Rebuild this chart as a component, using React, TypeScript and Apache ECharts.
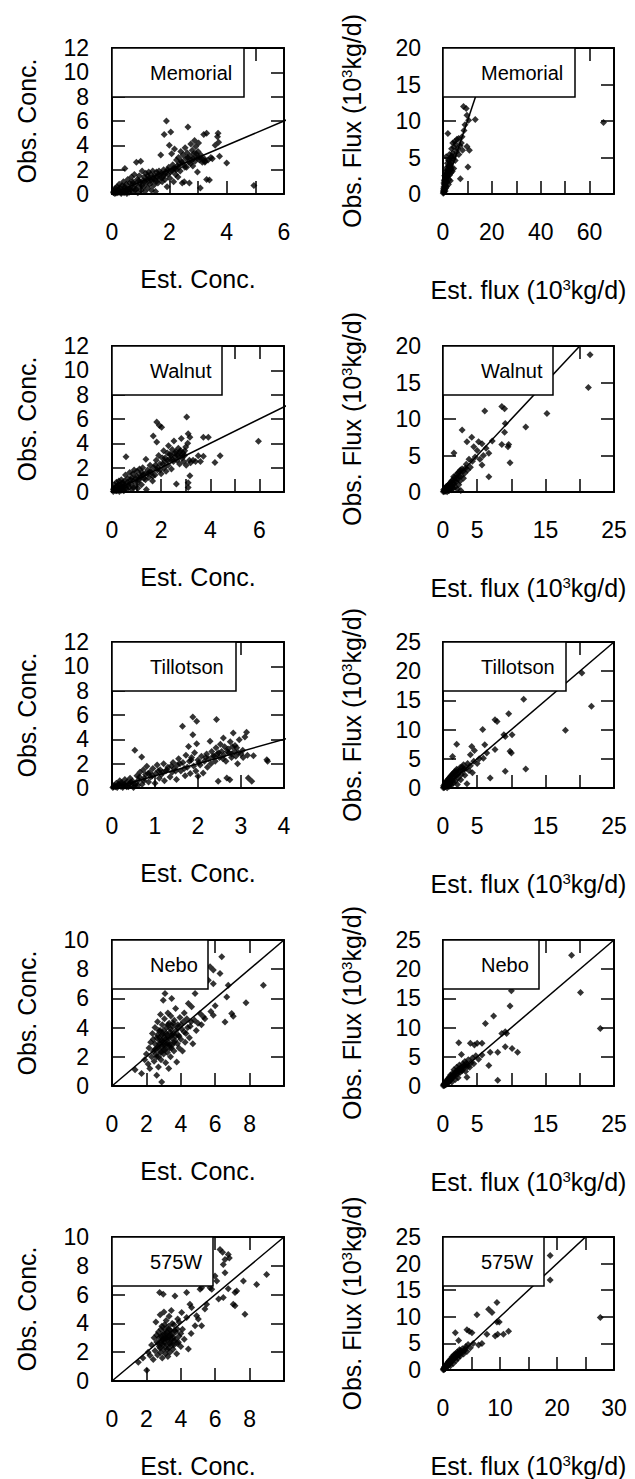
import React, { useEffect, useRef } from 'react';
import * as echarts from 'echarts';

// ---------- data ----------
const memorialConc: number[][] = [
  [0.05,0.1],[0.08,0.3],[0.1,0.05],[0.12,0.5],[0.15,0.2],[0.18,0.6],[0.2,0.1],[0.22,0.35],[0.25,0.8],[0.28,0.15],
  [0.3,0.45],[0.32,0.05],[0.35,0.7],[0.38,0.25],[0.4,1.0],[0.42,0.1],[0.45,0.5],[0.45,2.1],[0.48,0.3],[0.5,0.8],
  [0.52,0.05],[0.55,1.2],[0.58,0.4],[0.6,0.15],[0.62,0.9],[0.65,0.6],[0.68,1.4],[0.7,0.2],[0.72,1.0],[0.75,0.5],
  [0.78,1.6],[0.8,0.3],[0.82,0.8],[0.85,2.6],[0.88,1.2],[0.9,0.1],[0.92,0.6],[0.95,1.5],[0.98,0.9],[1.0,2.7],
  [1.02,0.3],[1.05,1.9],[1.08,1.1],[1.1,0.6],[1.12,1.4],[1.15,0.2],[1.18,1.7],[1.2,0.9],[1.22,1.2],[1.25,0.5],
  [1.28,1.8],[1.3,1.3],[1.32,0.8],[1.35,1.6],[1.38,0.3],[1.4,1.1],[1.42,1.9],[1.45,0.7],[1.48,1.5],[1.5,1.2],
  [1.52,0.2],[1.55,1.8],[1.58,1.4],[1.6,0.9],[1.62,1.6],[1.65,1.3],[1.7,3.2],[1.72,1.7],[1.75,1.0],[1.78,1.5],
  [1.8,2.0],[1.82,4.9],[1.85,1.2],[1.88,1.8],[1.9,6.0],[1.92,0.6],[1.95,1.6],[1.98,2.2],[2.0,4.0],[2.02,1.3],
  [2.05,5.1],[2.08,3.3],[2.1,1.9],[2.12,2.4],[2.15,1.0],[2.18,3.7],[2.2,2.1],[2.22,1.6],[2.25,2.8],[2.28,2.3],
  [2.3,1.4],[2.32,3.0],[2.35,2.5],[2.38,1.9],[2.4,3.5],[2.42,2.7],[2.45,0.9],[2.48,3.2],[2.5,2.4],[2.52,1.0],
  [2.55,3.8],[2.58,2.9],[2.6,2.2],[2.62,3.4],[2.65,5.5],[2.68,2.6],[2.7,0.9],[2.72,3.1],[2.75,4.1],[2.78,2.8],
  [2.8,3.6],[2.82,2.3],[2.85,3.3],[2.88,4.4],[2.9,2.7],[2.92,3.9],[2.95,3.0],[2.98,1.8],[3.0,3.5],[3.02,4.2],
  [3.05,2.8],[3.08,0.5],[3.1,3.2],[3.15,2.6],[3.2,4.9],[3.22,2.9],[3.25,2.7],[3.3,5.0],[3.3,1.2],[3.35,2.8],
  [3.4,1.15],[3.45,3.0],[3.5,2.9],[3.6,4.0],[3.68,4.7],[3.7,5.0],[3.72,4.25],[3.75,3.1],[4.0,2.55],[4.95,0.7],
  [0.06,0.2],[0.14,0.08],[0.24,0.4],[0.34,0.15],[0.44,0.6],[0.54,0.3],[0.64,0.35],[0.74,0.9],[0.84,0.4],[0.94,1.1],
  [1.04,0.7],[1.14,1.0],[1.24,1.5],[1.34,1.1],[1.44,1.3],[1.54,1.0],[1.64,1.9],[1.74,1.3],[1.84,1.6],[1.94,2.0],
  [2.04,1.8],[2.14,2.1],[2.24,2.0],[2.34,2.2],[2.44,2.6],[2.54,2.2],[2.64,3.0],[2.74,2.5],[2.84,2.9],[2.94,3.3],
  [3.04,3.0],[3.14,2.9],[3.24,2.6]
];

const memorialFlux: number[][] = [
  [0.1,0.1],[0.2,0.5],[0.3,0.2],[0.4,1.0],[0.5,0.3],[0.5,1.8],[0.6,0.6],[0.7,2.5],[0.8,1.2],[0.9,0.4],
  [1.0,3.0],[1.0,1.5],[1.1,0.8],[1.2,2.2],[1.3,5.1],[1.4,1.0],[1.5,3.6],[1.6,2.8],[1.7,1.6],[1.8,4.2],
  [2.0,8.3],[2.0,2.4],[2.1,3.2],[2.2,1.3],[2.3,4.6],[2.4,2.0],[2.5,3.8],[2.6,5.4],[2.7,2.6],[2.8,3.3],
  [3.0,4.0],[3.0,1.8],[3.2,5.0],[3.3,2.9],[3.4,3.6],[3.5,6.2],[3.6,4.4],[3.8,3.1],[4.0,5.6],[4.0,7.0],
  [4.2,4.8],[4.4,3.5],[4.5,6.4],[4.7,5.2],[4.8,7.2],[5.0,4.6],[5.2,6.8],[5.5,5.8],[5.7,7.5],[6.0,6.2],
  [6.4,7.6],[6.5,5.4],[7.0,6.6],[7.1,2.1],[7.5,7.0],[7.8,7.85],[8.0,6.0],[8.4,12.0],[8.6,8.7],[9.0,9.5],
  [9.5,11.7],[9.8,6.5],[9.8,10.8],[10.2,3.7],[10.5,10.1],[10.8,6.0],[13.2,10.2],[65.7,9.8],
  [0.15,0.3],[0.25,0.8],[0.35,1.5],[0.45,0.6],[0.6,1.3],[0.75,2.0],[0.9,1.1],[1.1,2.6],[1.25,1.8],[1.45,2.4],
  [1.65,3.3],[1.9,3.0],[2.2,3.8],[2.5,4.6],[2.8,4.2],[3.1,3.4],[3.6,5.2]
];

const walnutConc: number[][] = [
  [0.05,0.05],[0.08,0.3],[0.1,0.6],[0.12,0.15],[0.15,0.4],[0.18,0.8],[0.2,0.1],[0.22,0.5],[0.25,0.25],[0.28,0.9],
  [0.3,0.05],[0.32,0.6],[0.35,0.3],[0.38,1.0],[0.4,0.15],[0.42,0.7],[0.45,0.4],[0.48,0.1],[0.5,0.9],[0.52,0.5],
  [0.55,1.4],[0.57,2.9],[0.6,0.2],[0.62,0.8],[0.65,1.1],[0.7,0.4],[0.72,1.6],[0.75,0.7],[0.8,1.2],[0.82,0.2],
  [0.85,1.5],[0.88,0.9],[0.9,1.8],[0.95,0.5],[1.0,1.3],[1.02,1.7],[1.05,0.3],[1.1,1.0],[1.12,1.9],[1.15,1.4],
  [1.2,0.6],[1.22,1.6],[1.25,2.0],[1.3,1.1],[1.35,1.5],[1.38,2.7],[1.4,0.2],[1.45,1.8],[1.5,1.2],[1.55,2.2],
  [1.6,1.6],[1.65,0.9],[1.68,4.6],[1.7,2.0],[1.75,1.4],[1.8,2.6],[1.82,5.75],[1.82,4.1],[1.85,1.8],[1.9,3.0],
  [1.93,5.47],[1.95,2.3],[2.0,1.5],[2.02,5.33],[2.05,2.8],[2.1,3.4],[2.12,2.0],[2.15,2.5],[2.2,1.7],[2.25,3.2],
  [2.28,2.2],[2.3,3.8],[2.35,2.7],[2.4,3.0],[2.42,1.9],[2.45,3.5],[2.5,2.5],[2.52,4.2],[2.55,2.9],[2.6,3.3],
  [2.62,0.65],[2.65,2.6],[2.7,3.6],[2.72,3.0],[2.75,2.3],[2.8,3.4],[2.82,4.4],[2.85,2.8],[2.9,3.2],[2.92,2.5],
  [2.95,3.0],[3.0,3.7],[3.02,2.2],[3.04,6.16],[3.08,4.0],[3.1,4.78],[3.1,0.77],[3.1,0.36],[3.15,2.6],[3.17,4.5],
  [3.17,1.33],[3.2,2.4],[3.3,2.6],[3.4,2.5],[3.51,2.98],[3.6,2.5],[3.72,2.93],[3.72,4.5],[3.92,4.5],[4.19,2.43],
  [4.4,2.98],[5.96,4.17],
  [0.06,0.2],[0.16,0.1],[0.26,0.6],[0.36,0.2],[0.46,0.75],[0.56,0.3],[0.66,0.6],[0.76,1.0],[0.86,0.4],[0.96,1.1],
  [1.06,0.8],[1.16,1.2],[1.26,1.4],[1.36,1.0],[1.46,1.5],[1.56,1.7],[1.66,1.3],[1.76,2.2],[1.86,2.0],[1.96,1.8],
  [2.06,2.3],[2.16,2.8],[2.26,2.6],[2.36,3.1],[2.46,2.7],[2.56,3.2],[2.66,3.0],[2.76,3.3],[2.86,3.0],[2.96,3.4]
];

const walnutFlux: number[][] = [
  [0.05,0.05],[0.1,0.3],[0.2,0.1],[0.3,0.5],[0.4,0.2],[0.5,0.8],[0.6,0.05],[0.7,0.4],[0.8,1.0],[0.9,0.2],
  [1.0,0.6],[1.1,1.3],[1.2,0.3],[1.3,0.9],[1.4,1.6],[1.5,0.5],[1.6,5.35],[1.6,1.1],[1.7,2.0],[1.8,0.7],
  [1.9,1.4],[2.0,2.4],[2.1,0.4],[2.2,1.8],[2.3,1.0],[2.4,2.8],[2.5,1.5],[2.6,0.2],[2.7,2.2],[2.8,8.5],
  [2.8,3.2],[3.0,1.9],[3.2,2.6],[3.4,3.8],[3.5,6.9],[3.6,3.0],[3.8,4.5],[4.0,3.4],[4.2,7.5],[4.3,4.2],
  [4.5,6.2],[4.7,4.8],[5.0,5.7],[5.2,6.9],[5.4,4.5],[5.7,6.6],[5.7,3.7],[5.9,5.0],[6.1,11.1],[6.3,6.0],
  [6.7,5.3],[6.7,2.1],[7.2,7.0],[8.6,11.7],[8.6,6.5],[9.0,11.4],[9.0,8.2],[9.1,9.4],[9.5,6.2],[9.6,6.5],
  [9.8,4.0],[12.1,8.9],[15.2,10.75],[21.25,14.3],[21.5,18.8],
  [0.15,0.15],[0.25,0.4],[0.35,0.1],[0.45,0.6],[0.55,0.3],[0.65,0.8],[0.75,0.2],[0.85,0.7],[0.95,1.1],[1.05,0.4],
  [1.15,0.9],[1.25,1.5],[1.35,0.7],[1.45,1.2],[1.55,2.1],[1.75,1.5],[1.95,1.9],[2.15,2.6],[2.35,2.2],[2.55,3.0],
  [2.9,2.8],[3.3,3.3]
];

const tillotsonConc: number[][] = [
  [0.02,0.05],[0.05,0.2],[0.08,0.1],[0.1,0.4],[0.12,0.05],[0.15,0.3],[0.18,0.6],[0.2,0.15],[0.22,0.45],[0.25,0.05],
  [0.28,0.3],[0.3,0.7],[0.32,0.2],[0.35,0.5],[0.38,0.1],[0.4,0.35],[0.42,0.8],[0.45,0.2],[0.48,0.55],[0.5,0.05],
  [0.53,3.1],[0.55,0.4],[0.58,1.0],[0.6,0.2],[0.62,0.65],[0.65,1.3],[0.69,2.55],[0.7,0.3],[0.73,1.5],[0.75,0.8],
  [0.78,1.1],[0.81,1.78],[0.85,0.5],[0.88,1.3],[0.9,0.9],[0.95,1.6],[1.0,0.4],[1.02,1.2],[1.05,1.9],[1.1,0.8],
  [1.12,1.5],[1.15,1.1],[1.2,2.0],[1.22,0.6],[1.25,1.4],[1.3,1.7],[1.35,0.9],[1.4,1.3],[1.42,2.1],[1.45,1.6],
  [1.5,0.7],[1.52,1.9],[1.55,2.4],[1.6,1.4],[1.64,5.07],[1.65,2.1],[1.7,1.0],[1.72,2.7],[1.75,1.7],[1.78,3.42],
  [1.8,2.2],[1.82,1.2],[1.85,2.5],[1.88,5.84],[1.88,4.38],[1.9,1.8],[1.92,2.9],[1.95,1.4],[1.97,5.48],[1.97,3.64],
  [2.0,2.3],[2.0,0.96],[2.05,1.9],[2.08,2.6],[2.12,1.23],[2.15,2.2],[2.2,2.8],[2.22,1.7],[2.25,2.4],[2.28,3.84],
  [2.3,2.0],[2.32,3.0],[2.35,2.6],[2.4,2.2],[2.42,3.3],[2.43,5.62],[2.45,2.8],[2.47,0.55],[2.5,2.5],[2.52,3.6],
  [2.55,3.0],[2.59,4.11],[2.6,2.7],[2.62,3.4],[2.65,2.2],[2.67,0.82],[2.7,3.2],[2.72,2.9],[2.74,0.68],[2.75,3.8],
  [2.78,2.5],[2.8,3.4],[2.82,4.52],[2.85,3.0],[2.88,2.6],[2.9,3.3],[2.92,2.0],[2.96,3.97],[3.0,2.8],[3.05,2.5],
  [3.09,4.19],[3.13,4.58],[3.15,2.7],[3.17,0.82],[3.25,0.55],[3.29,2.66],[3.6,2.33],[3.62,2.2],
  [0.04,0.1],[0.14,0.2],[0.24,0.3],[0.34,0.1],[0.44,0.5],[0.54,0.25],[0.64,0.9],[0.74,0.6],[0.84,1.2],[0.94,1.0],
  [1.08,1.4],[1.18,1.3],[1.28,1.5],[1.38,1.8],[1.48,1.4],[1.58,2.0],[1.68,1.6],[1.84,2.3],[2.02,2.1],[2.18,2.5],
  [2.38,2.6],[2.48,2.9],[2.58,2.4],[2.68,3.0],[2.78,2.8],[2.86,3.5],[2.94,2.9],[3.04,3.1]
];

const tillotsonFlux: number[][] = [
  [0.05,0.05],[0.1,0.4],[0.2,0.1],[0.3,0.8],[0.4,0.3],[0.5,1.2],[0.6,0.05],[0.7,0.6],[0.8,1.6],[0.9,0.3],
  [1.0,1.0],[1.1,2.0],[1.2,0.5],[1.3,1.4],[1.4,5.4],[1.4,2.4],[1.5,0.8],[1.6,1.8],[1.7,2.8],[1.8,1.2],
  [1.9,2.2],[2.0,7.5],[2.0,3.2],[2.1,0.6],[2.2,1.7],[2.3,2.6],[2.5,3.5],[2.6,1.4],[2.7,2.3],[2.9,3.0],
  [3.0,4.0],[3.2,2.2],[3.4,3.4],[3.5,0.74],[3.6,4.2],[3.8,3.0],[4.0,5.7],[4.0,3.8],[4.2,7.1],[4.3,2.6],
  [4.5,4.6],[4.6,6.4],[5.0,4.2],[5.3,5.0],[5.8,10.0],[5.9,5.1],[6.1,7.4],[6.4,6.0],[6.9,1.7],[7.6,11.7],
  [7.6,6.6],[7.9,11.4],[8.9,9.1],[9.1,8.8],[9.1,2.85],[9.6,12.7],[9.8,6.3],[10.0,6.0],[10.1,9.1],[11.8,15.2],
  [12.1,3.25],[17.9,9.9],[20.3,19.7],[21.7,14.0],
  [0.15,0.2],[0.25,0.6],[0.35,0.3],[0.45,0.9],[0.55,0.5],[0.65,1.3],[0.75,0.4],[0.85,1.0],[0.95,1.8],[1.05,0.7],
  [1.15,1.5],[1.25,2.2],[1.45,1.2],[1.55,2.6],[1.75,2.0],[1.95,2.9],[2.15,2.3],[2.4,3.0],[2.8,3.6],[3.1,3.2]
];

const neboConc: number[][] = [
  [1.34,1.12],[1.72,0.85],[1.9,1.8],[2.0,2.2],[2.1,1.5],[2.15,2.6],[2.2,1.2],[2.25,3.0],[2.3,2.0],[2.35,3.6],
  [2.4,2.4],[2.45,1.7],[2.5,2.9],[2.5,4.0],[2.55,2.2],[2.6,0.73],[2.6,3.3],[2.62,2.6],[2.65,4.4],[2.7,1.3],
  [2.7,2.0],[2.72,3.8],[2.75,2.9],[2.78,3.1],[2.8,2.4],[2.82,4.9],[2.85,1.8],[2.88,3.5],[2.89,0.27],[2.9,2.7],
  [2.92,4.2],[2.95,3.0],[2.98,5.88],[3.0,2.2],[3.0,3.8],[3.02,2.5],[3.05,4.6],[3.08,6.34],[3.1,3.2],[3.12,1.6],
  [3.15,2.8],[3.18,4.0],[3.2,3.5],[3.22,2.3],[3.25,5.0],[3.28,3.0],[3.3,1.2],[3.32,4.3],[3.35,2.6],[3.38,3.7],
  [3.4,2.0],[3.42,4.8],[3.45,3.3],[3.47,6.0],[3.5,2.8],[3.52,4.1],[3.55,3.6],[3.6,2.4],[3.62,4.5],[3.65,3.1],
  [3.7,5.3],[3.72,3.8],[3.76,1.65],[3.8,2.9],[3.82,4.2],[3.85,3.5],[3.9,2.6],[3.95,4.7],[4.0,3.2],[4.05,3.9],
  [4.1,2.4],[4.15,4.4],[4.2,5.0],[4.25,3.0],[4.3,3.6],[4.35,4.6],[4.44,5.65],[4.5,3.3],[4.55,4.1],[4.63,5.42],
  [4.7,2.9],[4.8,4.5],[4.83,6.34],[4.9,3.8],[5.0,4.3],[5.12,4.97],[5.2,4.2],[5.31,4.74],[5.4,4.6],[5.6,7.25],
  [5.7,8.17],[5.75,5.1],[5.89,7.94],[5.89,7.0],[5.89,4.85],[6.0,5.5],[6.28,7.71],[6.38,8.86],[6.57,4.39],[6.67,6.1],
  [6.76,6.9],[6.96,4.97],[7.05,4.78],[7.79,5.7],[8.8,6.9],
  [2.4,3.2],[2.5,2.5],[2.6,2.0],[2.65,3.5],[2.7,2.7],[2.75,3.3],[2.8,3.8],[2.85,2.3],[2.9,3.1],[2.95,3.6],
  [3.0,2.8],[3.05,3.3],[3.1,2.5],[3.15,3.6],[3.2,2.9],[3.25,4.2],[3.3,3.3],[3.35,2.8],[3.4,3.9],[3.45,2.6],
  [3.5,3.5],[3.55,4.3],[3.6,3.0],[3.7,3.4],[3.8,4.0],[3.9,3.4],[4.0,4.2],[4.2,3.7],[4.4,4.0],[4.6,4.4]
];

const neboFlux: number[][] = [
  [0.05,0.05],[0.1,0.3],[0.2,0.1],[0.3,0.6],[0.4,0.2],[0.5,0.9],[0.6,0.4],[0.7,1.2],[0.8,0.6],[0.9,1.5],
  [1.0,0.9],[1.1,1.9],[1.2,1.2],[1.3,0.7],[1.4,2.2],[1.5,1.5],[1.6,2.8],[1.7,1.8],[1.8,1.1],[1.9,2.5],
  [2.0,3.2],[2.1,2.0],[2.2,1.4],[2.3,7.4],[2.3,2.9],[2.4,3.6],[2.5,2.3],[2.6,3.1],[2.7,5.4],[2.8,2.6],
  [2.9,3.8],[3.0,3.0],[3.2,4.2],[3.3,2.5],[3.5,1.5],[3.5,3.6],[3.7,4.5],[3.9,3.2],[4.0,7.3],[4.1,4.0],
  [4.3,4.8],[4.5,3.8],[4.6,7.0],[4.8,5.2],[5.0,7.3],[5.2,4.6],[5.7,7.3],[5.7,5.3],[6.2,10.7],[6.7,3.5],
  [6.9,5.8],[7.4,12.0],[8.0,5.8],[8.0,0.97],[8.6,9.0],[9.1,9.3],[9.1,6.7],[9.3,9.0],[9.8,13.7],[10.0,16.3],
  [10.1,6.4],[10.9,5.8],[18.8,22.4],[20.1,16.0],[23.0,9.84],
  [0.15,0.2],[0.25,0.4],[0.35,0.3],[0.45,0.7],[0.55,0.5],[0.65,0.9],[0.75,0.8],[0.85,1.2],[0.95,1.0],[1.05,1.4],
  [1.15,1.1],[1.25,1.7],[1.45,1.8],[1.65,2.1],[1.85,2.3],[2.05,2.6],[2.25,2.4],[2.45,3.0],[2.65,2.7],[2.85,3.3],
  [3.1,3.5],[3.4,3.9],[3.6,3.3]
];

const w575Conc: number[][] = [
  [1.53,1.31],[1.8,1.6],[2.02,0.74],[2.1,2.0],[2.21,1.77],[2.3,2.5],[2.4,1.5],[2.45,3.0],[2.5,2.1],[2.55,4.1],
  [2.6,2.7],[2.65,1.8],[2.7,3.4],[2.75,2.4],[2.77,6.14],[2.8,4.6],[2.82,2.0],[2.85,3.1],[2.88,2.6],[2.9,3.8],
  [2.92,1.6],[2.95,2.9],[2.98,6.02],[3.0,3.3],[3.0,2.2],[3.02,4.8],[3.05,2.7],[3.08,3.6],[3.1,1.9],[3.12,3.0],
  [3.15,4.2],[3.18,2.5],[3.2,3.4],[3.22,2.9],[3.25,1.7],[3.28,3.8],[3.3,2.3],[3.32,4.5],[3.35,3.1],[3.37,2.0],
  [3.4,2.7],[3.42,3.5],[3.45,4.9],[3.48,2.5],[3.5,3.2],[3.55,2.2],[3.6,3.9],[3.62,2.8],[3.66,5.91],[3.7,3.4],
  [3.76,1.89],[3.8,2.6],[3.82,4.3],[3.86,2.69],[3.9,3.1],[4.0,2.4],[4.05,4.76],[4.1,3.6],[4.2,2.9],[4.34,6.14],
  [4.34,4.41],[4.44,2.23],[4.53,5.33],[4.6,3.3],[4.63,5.1],[4.83,3.84],[4.92,4.53],[5.02,4.3],[5.12,6.37],[5.21,6.48],
  [5.21,3.84],[5.4,5.0],[5.5,5.33],[5.7,6.48],[5.8,6.37],[5.99,7.29],[6.09,6.94],[6.2,5.7],[6.28,9.13],[6.43,8.94],
  [6.47,8.09],[6.47,5.79],[6.57,8.44],[6.57,7.52],[6.76,8.78],[6.76,6.41],[6.82,8.55],[7.05,5.33],[7.15,6.14],[7.15,5.22],
  [7.25,6.25],[7.64,6.94],[7.73,4.64],[8.41,6.71],[8.99,7.4],
  [2.6,3.2],[2.7,2.6],[2.75,3.0],[2.8,2.3],[2.85,3.6],[2.9,2.8],[2.95,3.2],[3.0,2.5],[3.05,3.9],[3.1,2.9],
  [3.15,3.3],[3.2,2.2],[3.25,3.0],[3.3,3.6],[3.35,2.6],[3.4,3.2],[3.45,2.9],[3.5,4.0],[3.55,3.0],[3.6,2.5],
  [3.65,3.5],[3.7,2.9],[3.8,3.6],[3.9,4.1],[4.0,3.3]
];

const w575Flux: number[][] = [
  [0.05,0.05],[0.1,0.3],[0.2,0.1],[0.3,0.6],[0.4,0.3],[0.5,0.9],[0.6,0.5],[0.7,1.2],[0.8,0.7],[0.9,1.5],
  [1.0,1.0],[1.1,1.8],[1.2,1.3],[1.3,0.8],[1.4,2.1],[1.5,1.5],[1.6,2.5],[1.7,1.9],[1.8,1.2],[1.9,2.8],
  [2.0,2.2],[2.16,7.0],[2.2,3.1],[2.3,1.8],[2.4,2.6],[2.5,3.4],[2.6,2.2],[2.74,5.55],[2.8,3.0],[2.9,3.8],
  [3.0,2.6],[3.2,3.4],[3.4,4.0],[3.6,3.0],[3.8,3.7],[4.0,4.4],[4.2,7.55],[4.2,3.5],[4.4,4.8],[4.6,7.27],
  [4.8,4.2],[5.08,7.0],[5.3,5.0],[5.95,10.4],[6.25,4.7],[6.83,5.0],[7.7,6.7],[8.0,11.4],[8.6,10.8],[9.16,6.4],
  [9.46,12.7],[9.46,9.0],[9.6,6.7],[9.87,9.0],[10.6,6.7],[11.5,7.27],[18.8,21.5],[18.8,16.9],[27.6,9.85],
  [0.15,0.2],[0.25,0.5],[0.35,0.3],[0.45,0.7],[0.55,0.6],[0.65,0.9],[0.75,0.8],[0.85,1.2],[0.95,1.1],[1.05,1.5],
  [1.15,1.2],[1.25,1.7],[1.45,1.8],[1.65,2.2],[1.85,2.0],[2.05,2.7],[2.25,2.5],[2.45,2.9],[2.65,3.2],[2.85,2.8],
  [3.1,3.6],[3.5,3.4],[3.9,4.0]
];

const panelData = [memorialConc, memorialFlux, walnutConc, walnutFlux, tillotsonConc, tillotsonFlux, neboConc, neboFlux, w575Conc, w575Flux];
const siteNames = ['Memorial', 'Memorial', 'Walnut', 'Walnut', 'Tillotson', 'Tillotson', 'Nebo', 'Nebo', '575W', '575W'];
const xMaxes = [6, 70, 7, 25, 4, 25, 10, 25, 10, 30];
const yMaxes = [12, 20, 12, 20, 12, 25, 10, 25, 10, 25];
const xIntervals = [1, 10, 1, 5, 1, 5, 2, 5, 2, 5];
const yIntervals = [2, 5, 2, 5, 2, 5, 2, 5, 2, 5];
const xTickLabels = [
  [0, 2, 4, 6], [0, 20, 40, 60], [0, 2, 4, 6], [0, 5, 15, 25], [0, 1, 2, 3, 4],
  [0, 5, 15, 25], [0, 2, 4, 6, 8], [0, 5, 15, 25], [0, 2, 4, 6, 8], [0, 10, 20, 30]
];
const concXTitle = 'Est. Conc.';
const concYTitle = 'Obs. Conc.';
const fluxXTitle = '{a|Est. flux (10}{s|3}{a|kg/d)}';
const fluxYTitle = '{a|Obs. Flux (10}{s|3}{a|kg/d)}';

// ---------- layout / style ----------
const rowTops = [48, 346, 642, 940, 1237];
const colLefts = [112, 443];
const colWidths = [172, 171];
const boxH = 146;
const legendWidths = [132, 132, 110, 110, 124, 123, 96, 96, 101, 101];
const legendH = 49;
const FONT = '"Liberation Sans", Arial, Helvetica, sans-serif';

export default function App() {
  const ref = useRef<HTMLDivElement>(null);
  useEffect(() => {
    if (!ref.current) return;
    const chart = echarts.init(ref.current, null, { renderer: 'svg' });

    const grids: any[] = [];
    const xAxes: any[] = [];
    const yAxes: any[] = [];
    const series: any[] = [];
    const graphics: any[] = [];

    const axisLine = { show: true, onZero: false, lineStyle: { color: '#000', width: 2 } };
    const axisTick = { show: true, inside: true, length: 13, lineStyle: { color: '#000', width: 1.5 } };
    const richStyle = {
      a: { fontSize: 25, fontFamily: FONT, color: '#000' },
      s: { fontSize: 15, fontFamily: FONT, color: '#000', verticalAlign: 'top' }
    };

    for (let i = 0; i < 10; i++) {
      const row = Math.floor(i / 2);
      const col = i % 2;
      const left = colLefts[col];
      const top = rowTops[row];
      const width = colWidths[col];
      grids.push({ left, top, width, height: boxH, containLabel: false });

      const shownX = xTickLabels[i];
      const isFlux = col === 1;
      const common = { type: 'value', gridIndex: i, splitLine: { show: false }, axisLine, axisTick };

      xAxes.push({
        ...common,
        position: 'bottom',
        min: 0,
        max: xMaxes[i],
        interval: xIntervals[i],
        axisLabel: {
          margin: 26,
          fontSize: 23,
          fontFamily: FONT,
          color: '#000',
          showMinLabel: true,
          showMaxLabel: true,
          formatter: (v: number) => (shownX.indexOf(v) >= 0 ? String(v) : '')
        },
        name: isFlux ? fluxXTitle : concXTitle,
        nameLocation: 'middle',
        nameGap: isFlux ? 83 : 72,
        nameTextStyle: isFlux ? { rich: richStyle } : { fontSize: 25, fontFamily: FONT, color: '#000' }
      });
      xAxes.push({
        ...common,
        position: 'top',
        min: 0,
        max: xMaxes[i],
        interval: xIntervals[i],
        axisLabel: { show: false }
      });
      yAxes.push({
        ...common,
        position: 'left',
        min: 0,
        max: yMaxes[i],
        interval: yIntervals[i],
        axisLabel: {
          margin: isFlux ? 22 : 23,
          fontSize: 23,
          fontFamily: FONT,
          color: '#000',
          showMinLabel: true,
          showMaxLabel: true
        },
        name: isFlux ? fluxYTitle : concYTitle,
        nameLocation: 'middle',
        nameRotate: 90,
        nameGap: isFlux ? 79 : 73,
        nameTextStyle: isFlux ? { rich: richStyle } : { fontSize: 25, fontFamily: FONT, color: '#000' }
      });
      yAxes.push({
        ...common,
        position: 'right',
        min: 0,
        max: yMaxes[i],
        interval: yIntervals[i],
        axisLabel: { show: false }
      });

      series.push({
        type: 'scatter',
        xAxisIndex: 2 * i,
        yAxisIndex: 2 * i,
        data: panelData[i],
        symbol: 'diamond',
        symbolSize: 7,
        itemStyle: { color: '#000' },
        silent: true,
        z: 3
      });
      const m = Math.max(xMaxes[i], yMaxes[i]);
      series.push({
        type: 'line',
        xAxisIndex: 2 * i,
        yAxisIndex: 2 * i,
        data: [[0, 0], [m, m]],
        symbol: 'none',
        clip: true,
        lineStyle: { color: '#000', width: 1.5 },
        silent: true,
        z: 4
      });

      graphics.push({
        type: 'rect',
        shape: { x: left, y: top, width: legendWidths[i], height: legendH },
        style: { fill: '#fff', stroke: '#000', lineWidth: 1.5 },
        z: 100
      });
      graphics.push({
        type: 'text',
        x: left + 38,
        y: top + legendH / 2,
        style: {
          text: siteNames[i],
          fontSize: 20,
          fontFamily: FONT,
          fill: '#000',
          align: 'left',
          verticalAlign: 'middle'
        },
        z: 101
      });
    }

    chart.setOption({
      animation: false,
      backgroundColor: '#fff',
      grid: grids,
      xAxis: xAxes,
      yAxis: yAxes,
      series,
      graphic: { elements: graphics }
    });
    return () => chart.dispose();
  }, []);

  return (
    <div
      ref={ref}
      style={{ position: 'absolute', left: 0, top: 0, width: 635, height: 1479, background: '#fff' }}
    />
  );
}
